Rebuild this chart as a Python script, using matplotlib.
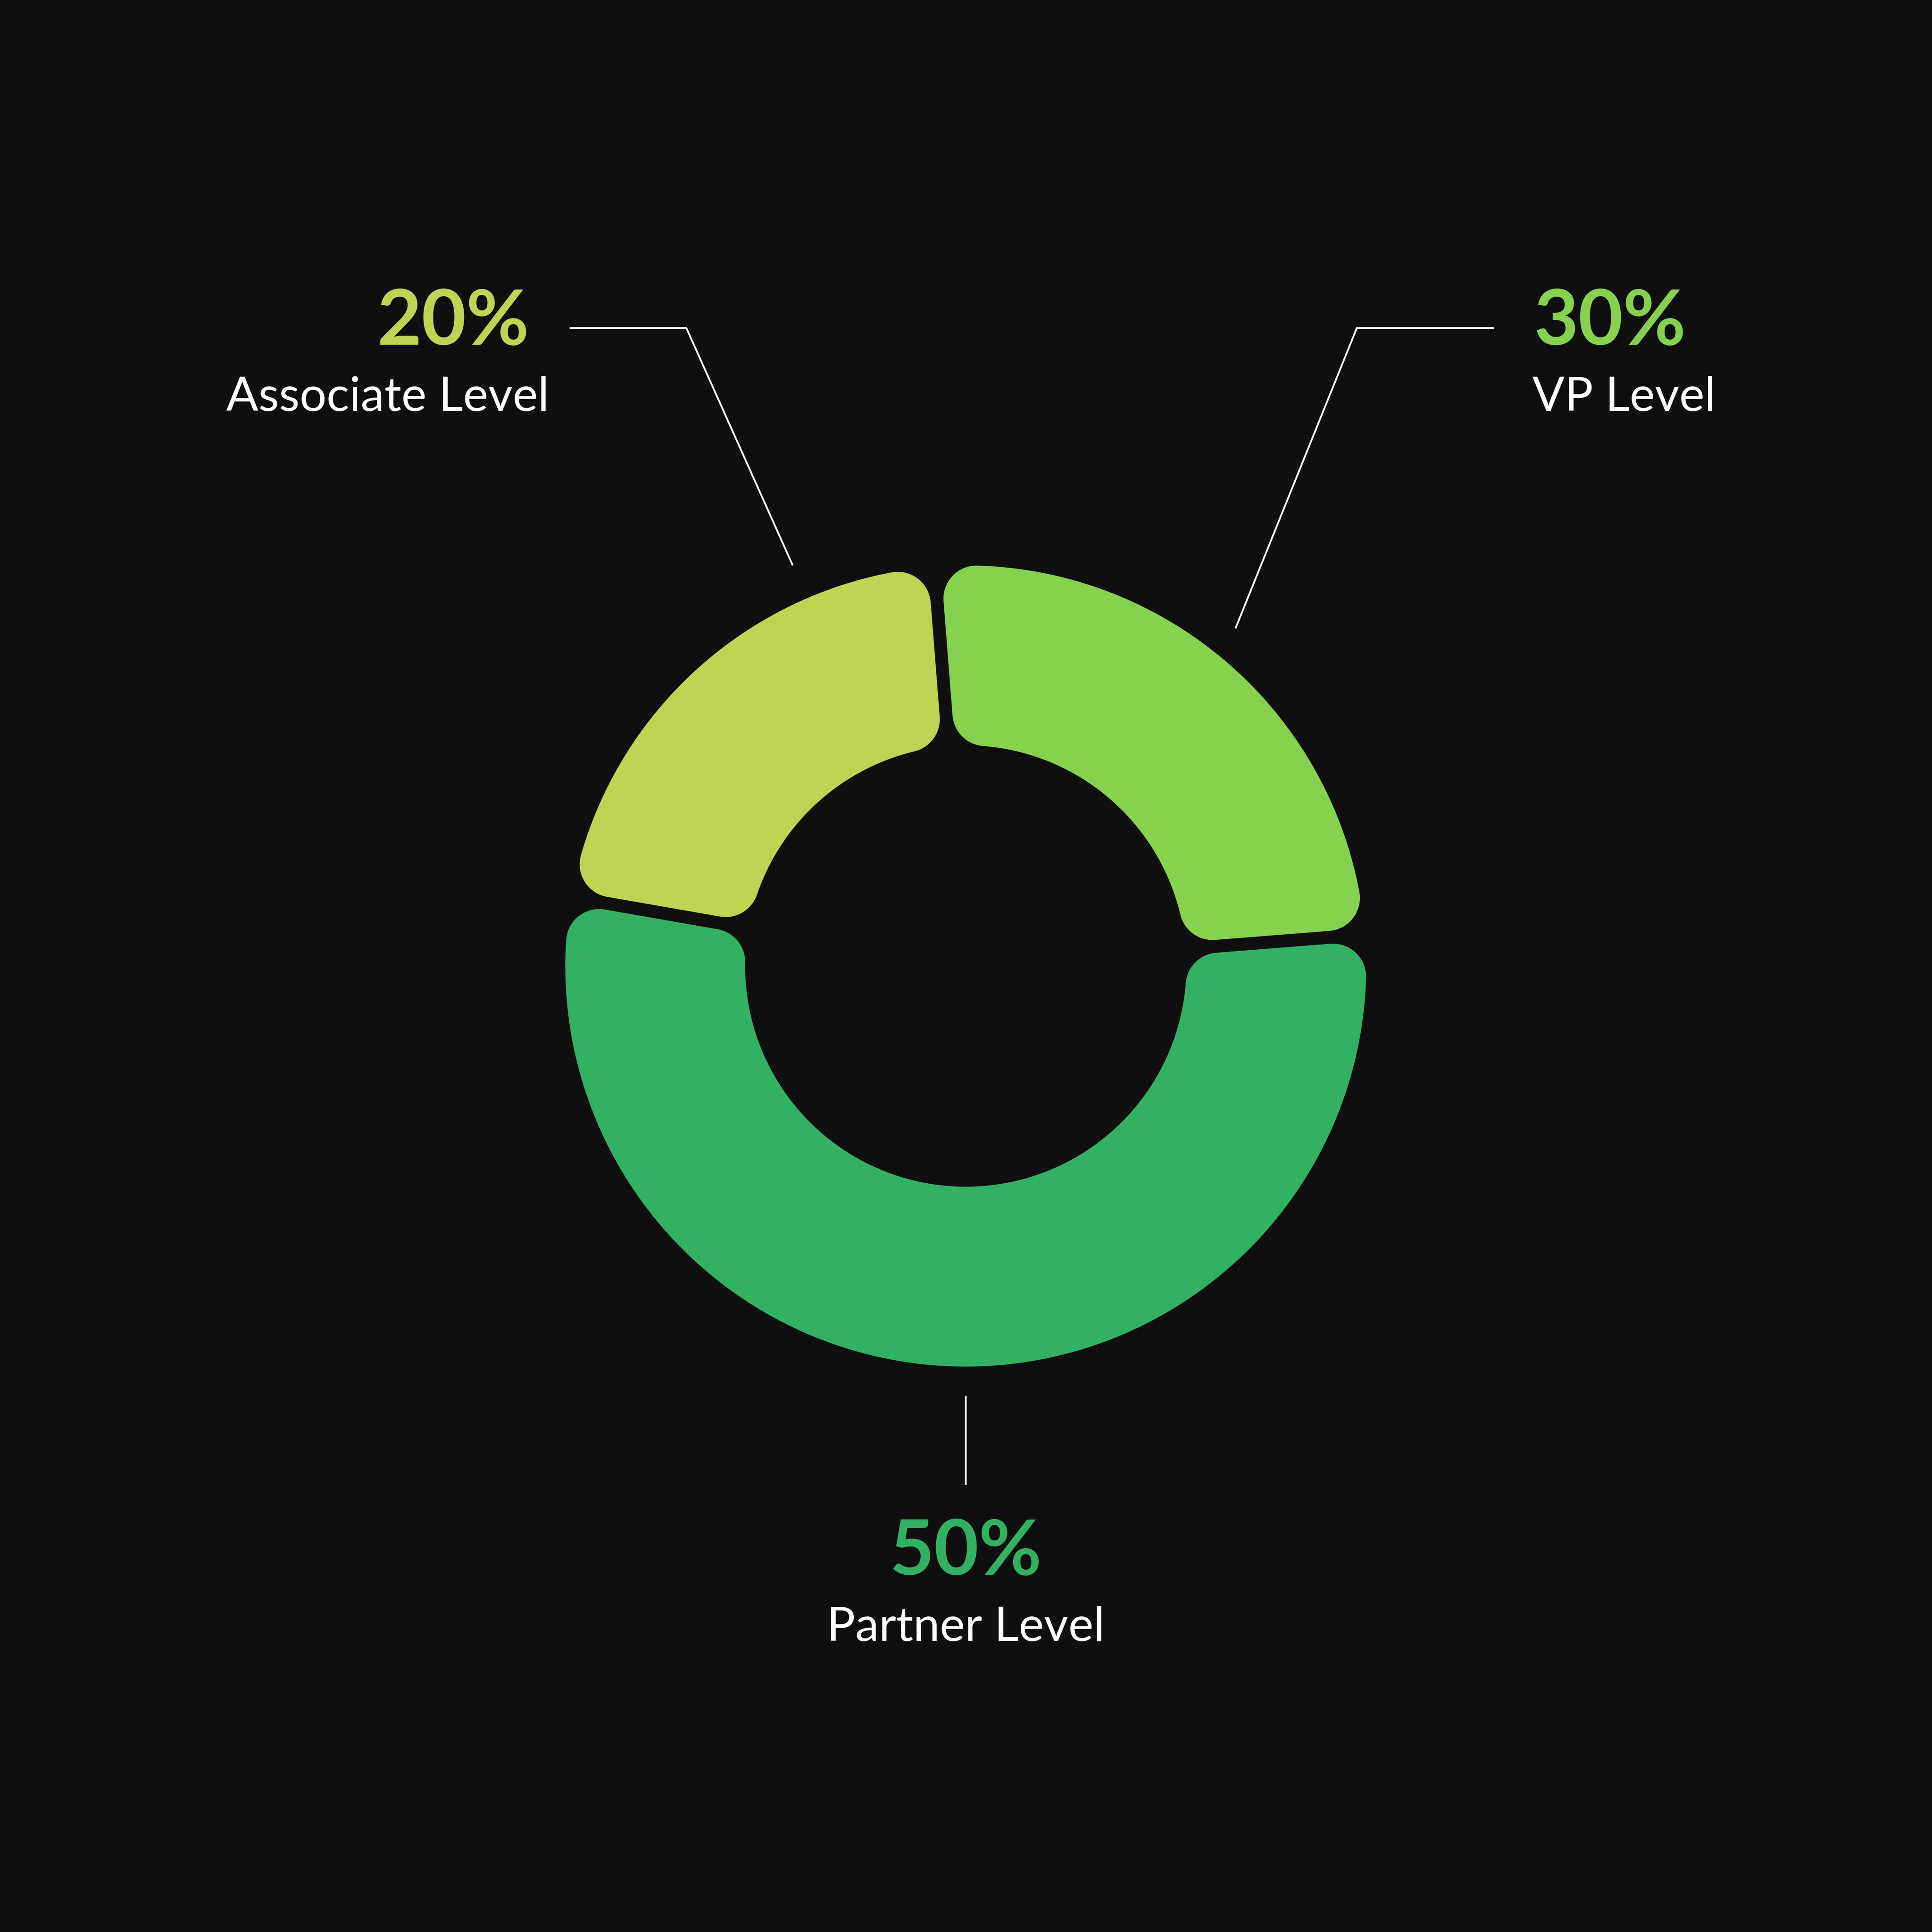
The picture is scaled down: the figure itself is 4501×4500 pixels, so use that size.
import numpy as np
import matplotlib
matplotlib.use("Agg")
import matplotlib.pyplot as plt
from matplotlib.patches import Polygon

# ---------------- data ----------------
categories = ["Associate Level", "VP Level", "Partner Level"]
pct_labels = ["20%", "30%", "50%"]
# arc sizes as actually drawn in the reference (degrees -> shares)
arc_shares = [21, 25, 54]
colors = ["#C0D353", "#86D24F", "#32B162"]

BG = "#0F0F0F"
W, H, DPI = 4501, 4500, 300

fig = plt.figure(figsize=(W / DPI, H / DPI), dpi=DPI, facecolor=BG)
ax = fig.add_axes([0, 0, 1, 1])
ax.set_facecolor(BG)

def Y(ypx):
    return H - ypx

cx, cy = 2250, Y(2250)
R_OUT, R_IN = 933, 514
GAP, CORNER = 30, 77

wedges, _ = ax.pie(arc_shares, startangle=170.1, counterclock=False,
                   radius=R_OUT, center=(cx, cy),
                   wedgeprops=dict(width=R_OUT - R_IN))
ax.set_xlim(0, W)
ax.set_ylim(0, H)
ax.set_aspect("equal")
ax.axis("off")

def rounded_segment(t1, t2, color):
    Ro = R_OUT - CORNER
    Ri = R_IN + CORNER
    d = GAP / 2 + CORNER
    ao1 = t1 + np.degrees(np.arcsin(d / Ro))
    ao2 = t2 - np.degrees(np.arcsin(d / Ro))
    ai1 = t1 + np.degrees(np.arcsin(d / Ri))
    ai2 = t2 - np.degrees(np.arcsin(d / Ri))
    to = np.radians(np.linspace(ao1, ao2, 300))
    ti = np.radians(np.linspace(ai2, ai1, 300))
    outer = np.column_stack([cx + Ro * np.cos(to), cy + Ro * np.sin(to)])
    inner = np.column_stack([cx + Ri * np.cos(ti), cy + Ri * np.sin(ti)])
    verts = np.vstack([outer, inner])
    poly = Polygon(verts, closed=True, facecolor=color, edgecolor=color,
                   linewidth=2 * CORNER * 72 / DPI, joinstyle="round",
                   antialiased=True)
    ax.add_patch(poly)

for w, col in zip(wedges, colors):
    w.set_visible(False)
    rounded_segment(w.theta1, w.theta2, col)

# ---------------- leader lines ----------------
LW = 1.0
ax.plot([1329, 1599, 1846], [Y(764), Y(764), Y(1315)], color="white", lw=LW,
        solid_joinstyle="miter")
ax.plot([3479, 3161, 2879], [Y(764), Y(764), Y(1462)], color="white", lw=LW,
        solid_joinstyle="miter")
ax.plot([2250, 2250], [Y(3253), Y(3457)], color="white", lw=LW)

# ---------------- text ----------------
FONT = "Lato"
PCT_SIZE = 43.0
LBL_SIZE = 26.6

ax.text(1233, Y(803), pct_labels[0], color=colors[0], fontsize=PCT_SIZE,
        fontweight="bold", family=FONT, ha="right", va="baseline")
ax.text(1279, Y(957), categories[0], color="white", fontsize=LBL_SIZE,
        family=FONT, ha="right", va="baseline")

ax.text(3573, Y(803), pct_labels[1], color=colors[1], fontsize=PCT_SIZE,
        fontweight="bold", family=FONT, ha="left", va="baseline")
ax.text(3570, Y(957), categories[1], color="white", fontsize=LBL_SIZE,
        family=FONT, ha="left", va="baseline")

ax.text(2250, Y(3668), pct_labels[2], color=colors[2], fontsize=PCT_SIZE,
        fontweight="bold", family=FONT, ha="center", va="baseline")
ax.text(2250, Y(3822), categories[2], color="white", fontsize=LBL_SIZE,
        family=FONT, ha="center", va="baseline")

fig.savefig("out.png", dpi=DPI, facecolor=BG)
